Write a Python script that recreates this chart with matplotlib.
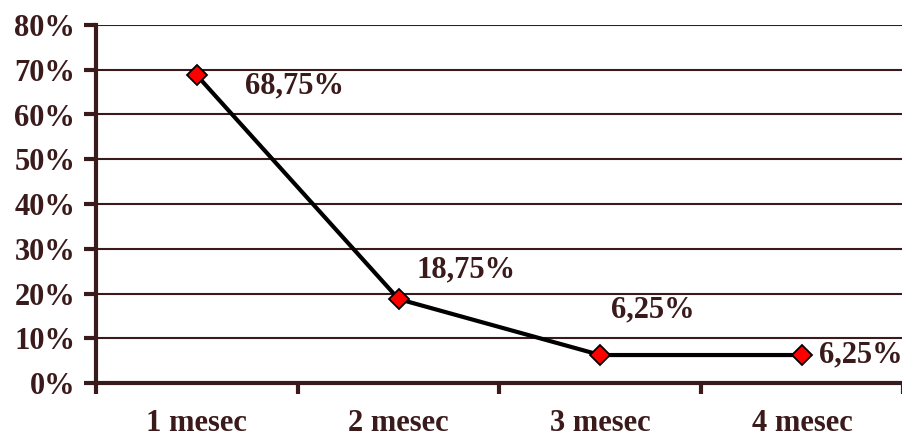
import matplotlib
matplotlib.use("Agg")
import matplotlib.pyplot as plt
from matplotlib.ticker import FixedLocator

categories = ["1 mesec", "2 mesec", "3 mesec", "4 mesec"]
values = [68.75, 18.75, 6.25, 6.25]
labels = ["68,75%", "18,75%", "6,25%", "6,25%"]
yticks = [0, 10, 20, 30, 40, 50, 60, 70, 80]
ytick_labels = ["0%", "10%", "20%", "30%", "40%", "50%", "60%", "70%", "80%"]
label_offsets = [(98, -11), (67, 29), (52, 45), (59, 0)]  # pixels

brown = "#3a1a1a"
plt.rcParams["font.family"] = ["Liberation Serif", "DejaVu Serif"]
plt.rcParams["font.weight"] = "bold"

fig = plt.figure(figsize=(9.03, 4.40), dpi=100)
ax = fig.add_axes([96/903, 1-383/440, 1-96/903, (383-25)/440])

x = list(range(len(categories)))
ax.plot(x, values, color="black", lw=3, marker="D", markersize=10,
        markerfacecolor="#ff0000", markeredgecolor="black", markeredgewidth=1.3, zorder=5, clip_on=False)

fs = 22
for xi, v, lab, (dx, dy) in zip(x, values, labels, label_offsets):
    ax.annotate(lab, (xi, v), xytext=(dx*0.72, dy*0.72), textcoords="offset points",
                ha="center", va="center", fontsize=fs, fontweight="bold", color=brown)

ax.set_xlim(-0.5, 3.5)
ax.set_ylim(0, 80)
ax.set_yticks(yticks)
ax.set_yticklabels(ytick_labels)
ax.set_xticks(x)
ax.set_xticklabels(categories)
ax.xaxis.set_minor_locator(FixedLocator([-0.5, 0.5, 1.5, 2.5, 3.5]))

ax.grid(axis="y", color=brown, lw=1.5)
ax.set_axisbelow(True)
for s in ["top", "right"]:
    ax.spines[s].set_visible(False)
for s in ["left", "bottom"]:
    ax.spines[s].set_color(brown)
    ax.spines[s].set_linewidth(3)

ax.tick_params(axis="y", length=9, width=3, color=brown, labelsize=fs, labelcolor=brown, pad=6)
ax.tick_params(axis="x", which="major", length=0, labelsize=fs, labelcolor=brown, pad=19)
ax.tick_params(axis="x", which="minor", length=8, width=3, color=brown)
for t in ax.get_xticklabels() + ax.get_yticklabels():
    t.set_fontweight("bold")

fig.savefig("out.png", dpi=100)
